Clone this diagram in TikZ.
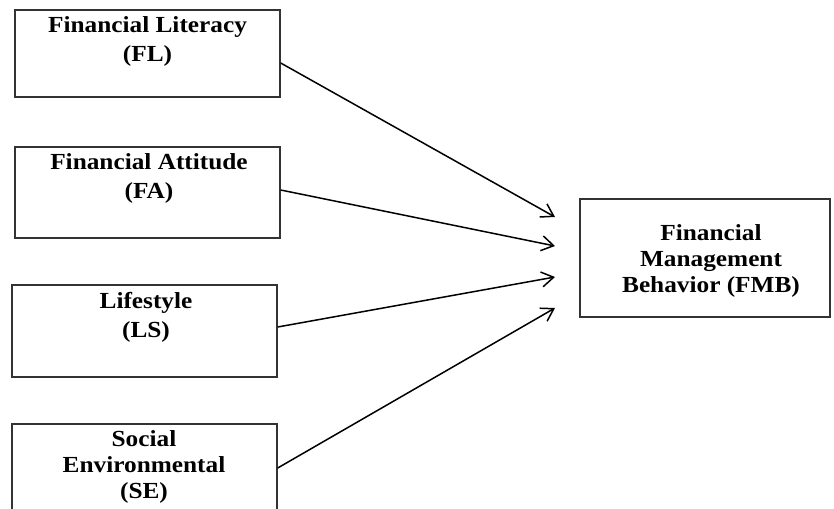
\documentclass[tikz,border=0pt]{standalone}
\usepackage{fontspec}
\setmainfont{Liberation Serif}[FakeStretch=1.1]
\usetikzlibrary{arrows.meta,calc}
\begin{document}
\begin{tikzpicture}[x=1pt,y=-1pt,
  box/.style={draw=black!80,line width=1.4pt,inner sep=0pt},
  lbl/.style={font=\bfseries\fontsize{23}{29}\selectfont,align=center,inner sep=0pt,anchor=base},
  lbltight/.style={lbl,font=\bfseries\fontsize{23}{26}\selectfont},
  conn/.style={line width=1.5pt,-{Straight Barb[length=12pt,width=15pt,line width=1.5pt]}}]
\clip (0,0) rectangle (834,508);
\fill[white] (0,0) rectangle (834,508);
% boxes
\node[box,minimum width=265pt,minimum height=87pt] (fl) at (147.5,53.5) {};
\node[box,minimum width=265pt,minimum height=91pt] (fa) at (147.5,192.5) {};
\node[box,minimum width=265pt,minimum height=92pt] (ls) at (144.5,331) {};
\node[box,minimum width=265pt,minimum height=92pt] (se) at (144.5,470) {};
\node[box,minimum width=250pt,minimum height=118pt] (fmb) at (705,258) {};
% labels (anchor base = baseline of last line)
\node[lbl] (tfl) at (147.5,62) {Financial Literacy\\(FL)};
\node[lbl] (tfa) at (149,198) {Financial Attitude\\(FA)};
\node[lbl] (tls) at (146,337) {Lifestyle\\(LS)};
\node[lbltight] (tse) at (144,498) {Social\\Environmental\\(SE)};
\node[lbltight] (tfmb) at (711,292) {Financial\\Management\\Behavior (FMB)};
% arrow tips
\coordinate (t1) at (555,217);
\coordinate (t2) at (555,246);
\coordinate (t3) at (555,277);
\coordinate (t4) at (555,308);
\draw[conn] ($(fl.east)+(0,9.5)$) -- (t1);
\draw[conn] ($(fa.east)+(0,-2.5)$) -- (t2);
\draw[conn] ($(ls.east)+(0,-4)$) -- (t3);
\draw[conn] ($(se.east)+(0,-2)$) -- (t4);
\end{tikzpicture}
\end{document}
